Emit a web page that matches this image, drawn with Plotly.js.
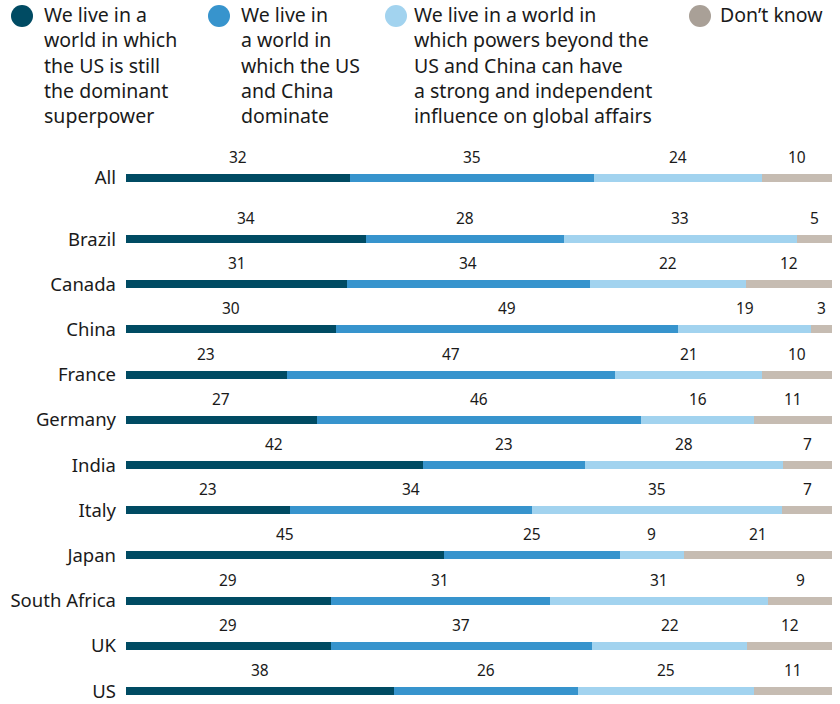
<!DOCTYPE html>
<html>
<head>
<meta charset="utf-8">
<script src="https://cdn.plot.ly/plotly-3.0.1.min.js"></script>
<style>html,body{margin:0;padding:0;background:#fff;}#chart{width:840px;height:704px;}</style>
</head>
<body>
<div id="chart"></div>
<script>
const categories = ["All","Brazil","Canada","China","France","Germany","India","Italy","Japan","South Africa","UK","US"];
const seriesNames = [
  "We live in a<br>world in which<br>the US is still<br>the dominant<br>superpower",
  "We live in<br>a world in<br>which the US<br>and China<br>dominate",
  "We live in a world in<br>which powers beyond the<br>US and China can have<br>a strong and independent<br>influence on global affairs",
  "Don’t know"
];
const usDominant   = [32,34,31,30,23,27,42,23,45,29,29,38];
const usChina      = [35,28,34,49,47,46,23,34,25,31,37,26];
const multipolar   = [24,33,22,19,21,16,28,35,9,31,22,25];
const dontKnow     = [10,5,12,3,10,11,7,7,21,9,12,11];

const series = [usDominant, usChina, multipolar, dontKnow];
const colors = ["#004b63","#3794cd","#a2d3ef","#c6bcb2"];
const legendColors = ["#004b63","#3794cd","#a2d3ef","#a9a097"];

// row positions: extra gap after "All"
const ypos = categories.map((c,i)=> i + (i>0 ? 0.35 : 0));

const W=840,H=704, mL=126, mR=8, mT=147, mB=7;
const plotW=W-mL-mR, plotH=H-mT-mB;
const px2x = p => (p-mL)/plotW;
const px2y = p => (H-mB-p)/plotH;
const FONT = 'Noto Sans, sans-serif';

const traces = series.map((vals,k)=>({
  type:'bar', orientation:'h',
  x: vals, y: ypos,
  marker:{color:colors[k], line:{width:0}},
  width: 0.177,
  hoverinfo:'skip', showlegend:false
}));

const annotations = [];
categories.forEach((c,i)=>{
  const tot = series.reduce((s,v)=>s+v[i],0);
  let cum=0;
  series.forEach((vals,k)=>{
    const v=vals[i];
    const center = (cum + v/2)/tot*100;
    cum += v;
    annotations.push({x:center, y:ypos[i], xref:'x', yref:'y', text:String(v), showarrow:false,
      yshift:21, yanchor:'middle', xanchor:'center',
      font:{family:FONT, size:15.5, color:'#1a1a1a'}});
  });
});

const legendCircleX = [22,219,396,700];
const legendTextX = [42,239,412,718];
const shapes = [];
seriesNames.forEach((txt,k)=>{
  shapes.push({type:'circle', xref:'paper', yref:'paper', xsizemode:'pixel', ysizemode:'pixel',
    xanchor:px2x(legendCircleX[k]), yanchor:px2y(16), x0:-11, x1:11, y0:-11, y1:11,
    fillcolor:legendColors[k], line:{width:0}});
  annotations.push({x:px2x(legendTextX[k]), y:px2y(-1), xref:'paper', yref:'paper', text:txt,
    showarrow:false, xanchor:'left', yanchor:'top', align:'left',
    font:{family:FONT, size:19.5, color:'#1a1a1a'}});
});

const layout = {
  width:W, height:H,
  margin:{l:mL,r:mR,t:mT,b:mB,pad:0},
  barmode:'stack', barnorm:'percent',
  paper_bgcolor:'#fff', plot_bgcolor:'#fff',
  xaxis:{range:[0,100], visible:false, fixedrange:true},
  yaxis:{range:[11.482,-0.686], tickvals:ypos, ticktext:categories, showgrid:false, zeroline:false,
    showline:false, ticks:'', ticklabelstandoff:9, ticklabeloverflow:'allow',
    tickfont:{family:FONT, size:18.5, color:'#1a1a1a'}},
  annotations, shapes, showlegend:false
};
Plotly.newPlot('chart', traces, layout, {staticPlot:true});
</script>
</body>
</html>
